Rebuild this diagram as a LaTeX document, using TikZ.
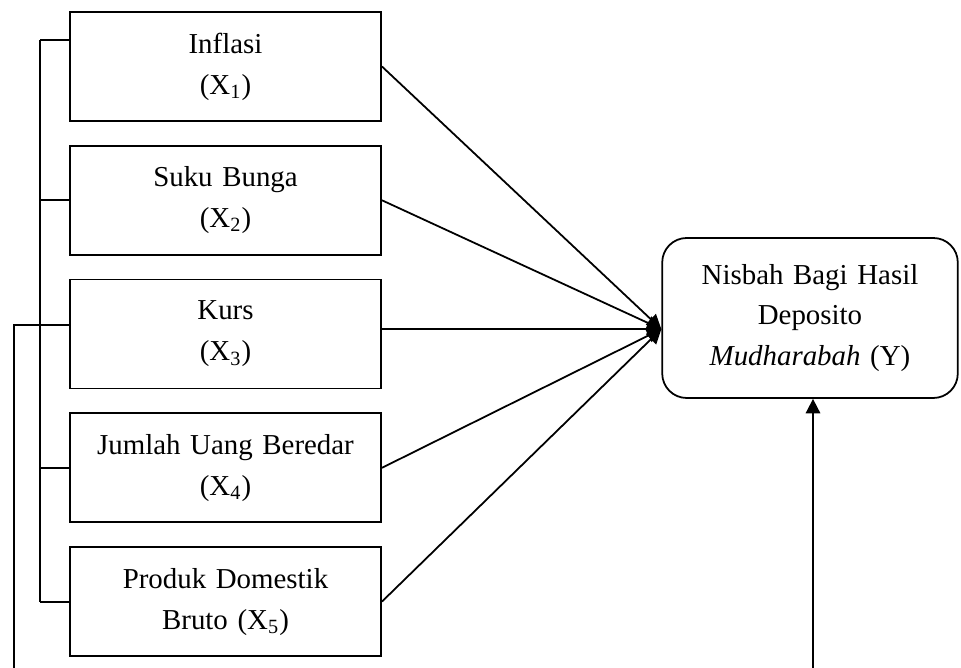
\documentclass[tikz,border=0pt]{standalone}
\usepackage{fontspec}
\setmainfont{Liberation Serif}
\usetikzlibrary{arrows.meta,positioning}

\begin{document}
\begin{tikzpicture}[x=0.45pt, y=-0.45pt, >={Triangle[length=6.5pt,width=6.5pt]}, line width=0.8pt,
    varbox/.style={rectangle, draw, text width=130pt, minimum width=140pt, minimum height=49pt, inner sep=0pt, align=center, font=\fontsize{13}{18.4}\selectfont},
    ybox/.style={rectangle, draw, rounded corners=11pt, text width=125pt, minimum width=133pt, minimum height=72pt, inner sep=0pt, align=center, font=\fontsize{13}{18.4}\selectfont}]
    \useasboundingbox (0,0) rectangle (961,668);

    % Nodes
    \node (inflasi) [varbox] at (225.5,66.5) {Inflasi\\(X\textsubscript{1})};
    \node (bunga) [varbox, below=10.4pt of inflasi] {Suku Bunga\\(X\textsubscript{2})};
    \node (kurs) [varbox, below=10.4pt of bunga] {Kurs\\(X\textsubscript{3})};
    \node (jub) [varbox, below=10.4pt of kurs] {Jumlah Uang Beredar\\(X\textsubscript{4})};
    \node (pdb) [varbox, below=10.4pt of jub] {Produk Domestik\\Bruto (X\textsubscript{5})};
    \node (nisbah) [ybox] at (810,318) {Nisbah Bagi Hasil\\Deposito\\\textit{Mudharabah} (Y)};

    \coordinate (hub) at ([yshift=-5pt]nisbah.west);
    \coordinate (brtop) at (40,40);
    \coordinate (fbl) at (14,668);
    \coordinate (fbr) at (813,668);

    % Edges
    \draw[->] (inflasi.east) -- (hub);
    \draw[->] (bunga.east) -- (hub);
    \draw[->] (kurs.east |- hub) -- (hub);
    \draw[->] (jub.east) -- (hub);
    \draw[->] (pdb.east) -- (hub);

    % Bracket
    \draw (brtop) -- (brtop |- pdb.west);
    \draw (brtop) -- (brtop -| inflasi.west);
    \draw (brtop |- bunga.west) -- (bunga.west);
    \draw (brtop |- jub.west) -- (jub.west);
    \draw (brtop |- pdb.west) -- (pdb.west);
    \draw (fbl) |- ([yshift=4pt]kurs.west);
    \draw[->] (fbr) -- (fbr |- nisbah.south);
\end{tikzpicture}
\end{document}
